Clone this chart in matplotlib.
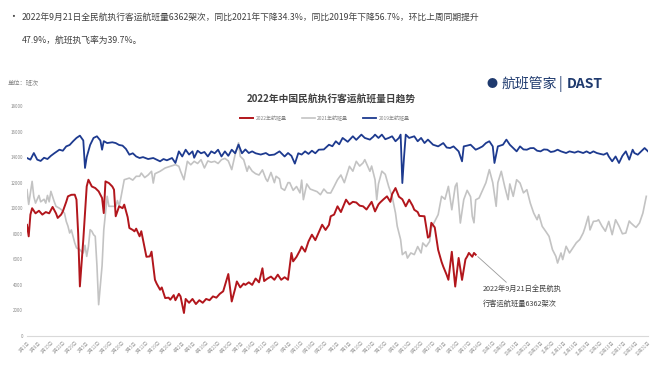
import matplotlib
matplotlib.use("Agg")
import matplotlib.pyplot as plt
import numpy as np
import datetime as dt

plt.rcParams['font.family'] = ['Noto Sans CJK SC', 'DejaVu Sans']

# 2019 daily flights (day of year, value)
days_2019 = [0, 2, 4, 6, 8, 10, 12, 14, 16, 19, 21, 23, 25, 27, 29, 31, 33, 34, 35, 37, 39, 41, 43, 44,
             45, 47, 50, 52, 54, 56, 58, 60, 62, 64, 66, 68, 71, 74, 76, 78, 80, 82, 85, 87, 89, 91,
             93, 95, 97, 98, 100, 102, 104, 106, 108, 110, 112, 114, 116, 118, 120, 122, 124, 126,
             128, 130, 132, 134, 137, 140, 142, 145, 148, 151, 153, 155, 157, 159, 161, 163, 165,
             167, 169, 171, 174, 177, 179, 181, 183, 185, 188, 191, 193, 196, 198, 201, 203, 204,
             206, 208, 210, 212, 214, 216, 218, 219, 220, 221, 222, 224, 227, 229, 231, 233, 235,
             238, 241, 244, 246, 248, 250, 253, 255, 256, 258, 260, 263, 265, 267, 269, 271, 273,
             274, 276, 279, 281, 283, 285, 287, 289, 291, 293, 295, 297, 299, 301, 303, 305, 307,
             309, 311, 313, 316, 318, 321, 323, 326, 328, 330, 332, 334, 336, 338, 340, 341, 343,
             345, 347, 349, 351, 353, 355, 356, 358, 360, 362, 364]
vals_2019 = [13930, 13800, 14320, 13800, 13700, 13950, 13850, 14100, 14300, 14580, 14500, 14840,
             14950, 15240, 15500, 15680, 15300, 13150, 14000, 14950, 15500, 15630, 15300, 14580,
             15250, 15100, 15160, 15100, 14950, 14900, 14640, 14190, 14300, 14050, 13930, 14000,
             13850, 13930, 13800, 13670, 13850, 13750, 13930, 13540, 14450, 14050, 14580, 14200,
             14450, 13950, 14500, 14300, 14400, 14050, 14450, 14300, 14580, 14050, 14450, 14100,
             14580, 14300, 14980, 14300, 14600, 14320, 14450, 14300, 14200, 14320, 14150, 14200,
             14450, 14050, 14320, 14100, 13490, 14300, 14200, 14450, 14250, 14500, 14300, 14580,
             14600, 14970, 14850, 15240, 15000, 15500, 15200, 15630, 15350, 15760, 15500, 15370,
             15600, 15760, 15500, 15760, 15400, 15500, 15630, 15240, 15500, 15760, 11970, 14000,
             15760, 15500, 15630, 15240, 15500, 15100, 15370, 14970, 14840, 15100, 14750, 14710,
             14840, 14450, 13670, 14840, 14900, 14970, 14580, 14700, 14840, 15100, 15240, 14840,
             13540, 14840, 14970, 15370, 14970, 14710, 14450, 14840, 14600, 14580, 14700, 14710,
             14500, 14450, 14600, 14580, 14400, 14450, 14580, 14450, 14320, 14450, 14350, 14450,
             14320, 14450, 14300, 14450, 14320, 14250, 14190, 14320, 14050, 13670, 14050, 13540,
             14100, 14450, 13800, 14580, 14320, 14190, 14450, 14710, 14450]

# 2021 daily flights
days_2021 = [0, 1, 3, 4, 5, 7, 8, 10, 11, 12, 13, 14, 16, 17, 19, 20, 22, 23, 24, 25, 26, 28, 29,
             31, 32, 33, 34, 35, 36, 37, 38, 39, 40, 41, 42, 44, 45, 47, 48, 50, 52, 53, 54, 55, 57,
             60, 62, 64, 66, 67, 69, 71, 73, 74, 75, 78, 81, 84, 87, 89, 90, 92, 94, 96, 98, 100,
             102, 104, 106, 108, 110, 112, 114, 116, 118, 120, 122, 124, 125, 127, 129, 130, 132,
             134, 136, 138, 140, 141, 143, 145, 146, 148, 149, 151, 153, 154, 156, 158, 160, 161,
             162, 164, 166, 168, 170, 172, 174, 176, 178, 180, 182, 184, 186, 189, 191, 193, 195,
             197, 198, 201, 202, 204, 205, 206, 208, 210, 212, 214, 216, 217, 219, 220, 222, 223,
             225, 227, 229, 231, 232, 234, 236, 237, 239, 241, 243, 245, 247, 249, 251, 252, 254,
             256, 258, 260, 261, 262, 263, 265, 267, 269, 271, 273, 275, 276, 278, 280, 282, 283,
             285, 287, 289, 291, 293, 295, 297, 299, 300, 302, 304, 306, 308, 310, 311, 313, 314,
             316, 318, 320, 322, 324, 326, 327, 329, 330, 332, 334, 335, 337, 339, 341, 343, 345,
             347, 349, 351, 353, 354, 356, 357, 359, 361, 363]
vals_2021 = [11450, 10300, 12100, 10900, 10400, 11000, 10500, 10700, 10400, 11000, 10500, 11320,
             10500, 10150, 10000, 9900, 9600, 8970, 8600, 8060, 8300, 7280, 6900, 6760, 6600, 6500,
             7100, 6230, 7000, 8320, 8200, 7930, 7800, 5500, 2450, 5500, 8300, 10930, 10150, 10150,
             10150, 10600, 10150, 10800, 12230, 12360, 12200, 12500, 12500, 12750, 12400, 12600,
             12890, 11970, 12700, 12890, 13150, 13280, 13410, 13280, 12900, 12230, 13670, 13400,
             13670, 13500, 13800, 13150, 13700, 13600, 13670, 13500, 13800, 13900, 13700, 13020,
             14200, 15120, 14060, 13800, 12890, 13300, 12900, 12700, 12600, 13000, 12300, 12100,
             12800, 12000, 12500, 12300, 11580, 11400, 12000, 12000, 11400, 11700, 11200, 12200,
             10670, 11900, 11500, 11400, 11300, 11060, 11500, 11200, 11190, 11700, 12230, 12600,
             12000, 13280, 12900, 13670, 13300, 13550, 13800, 12890, 13300, 12230, 10670, 11900,
             12900, 12650, 11700, 10930, 9620, 8600, 7540, 6370, 6600, 6100, 6500, 6370, 7000, 6500,
             7280, 7000, 7400, 8450, 8970, 9500, 10930, 10700, 11710, 9880, 11710, 11970, 8840,
             10670, 11400, 10900, 9370, 8860, 10660, 10800, 11400, 12000, 13020, 12000, 10150,
             12000, 12890, 11700, 10670, 11900, 10930, 12230, 11970, 11200, 11450, 10400, 9620,
             9100, 9500, 8580, 8200, 7800, 6760, 6230, 5710, 6500, 5980, 7020, 6500, 6900, 7300,
             7550, 8060, 8450, 9370, 8300, 8970, 9000, 9100, 8600, 8200, 8970, 7930, 9100, 8600,
             8000, 8060, 9000, 8840, 8600, 8500, 8840, 9620, 10930]

# 2022 daily flights (to 9月21日)
days_2022 = [0, 1, 2, 3, 5, 7, 9, 11, 13, 15, 17, 18, 20, 21, 23, 24, 26, 28, 29, 30, 31, 33, 35,
             36, 38, 40, 42, 44, 45, 46, 48, 50, 51, 52, 54, 56, 57, 59, 60, 62, 63, 64, 66, 67, 69,
             70, 72, 73, 75, 76, 78, 79, 81, 83, 84, 86, 87, 89, 90, 92, 93, 95, 97, 99, 101, 103,
             105, 107, 109, 111, 113, 115, 117, 118, 119, 120, 122, 123, 125, 127, 128, 130, 132,
             134, 136, 138, 139, 141, 143, 145, 147, 149, 151, 153, 155, 156, 158, 160, 161, 163,
             165, 167, 169, 171, 173, 175, 177, 178, 180, 182, 184, 187, 189, 191, 193, 195, 197,
             199, 202, 204, 206, 207, 209, 211, 213, 214, 216, 218, 220, 222, 224, 226, 227, 229,
             230, 233, 235, 236, 237, 239, 241, 243, 244, 246, 247, 248, 249, 251, 253, 255, 257,
             258, 259, 261, 262, 263]
vals_2022 = [8700, 7800, 9500, 10000, 9600, 9800, 9500, 9700, 9600, 10100, 9600, 9240, 9500, 9750,
             10500, 10930, 11050, 11060, 10670, 8000, 3880, 7540, 11710, 12230, 11700, 11580,
             11320, 10800, 9620, 12100, 11970, 11700, 11450, 9370, 10150, 10000, 10280, 9300, 8450,
             8300, 8190, 8400, 7800, 8200, 6890, 6200, 6230, 6600, 4400, 4100, 3620, 3800, 2970,
             3000, 2840, 3200, 2800, 3300, 3100, 1800, 2900, 2600, 2900, 2500, 2800, 2600, 2900,
             2800, 3100, 3000, 3300, 3500, 4400, 4850, 3800, 2700, 3700, 4270, 3800, 4100, 4000,
             4200, 4000, 4500, 4200, 5300, 4300, 4500, 4650, 4400, 4800, 4400, 4600, 4400, 6500,
             5840, 6200, 6700, 7000, 6600, 7400, 7930, 7500, 8100, 8710, 8300, 8700, 9370, 9500,
             10150, 9700, 10670, 10300, 10500, 10450, 10200, 10150, 9900, 10500, 9750, 10300,
             10450, 10700, 10930, 10500, 11100, 11580, 10900, 10700, 10150, 10670, 10200, 9880,
             9700, 9400, 9370, 7700, 7800, 8860, 8500, 6740, 5800, 5430, 4780, 4400, 5500, 6590,
             3870, 6110, 4390, 6000, 6220, 6500, 6200, 6500, 6362]

y_ticks = list(range(0, 18001, 2000))
start = dt.date(2022, 1, 1)
tick_days = list(range(0, 365, 7))
tick_labels = [f"{(start + dt.timedelta(d)).month}月{(start + dt.timedelta(d)).day}日" for d in tick_days]

RED = "#b2161c"
GREY = "#c3c3c3"
BLUE = "#1d3a8f"

fig = plt.figure(figsize=(6.5, 3.65), dpi=100)
ax = fig.add_axes([27 / 650, 29 / 365, 621 / 650, 230 / 365])

ax.plot(days_2021, vals_2021, color=GREY, lw=1.2, label="2021年航班量", zorder=2)
ax.plot(days_2019, vals_2019, color=BLUE, lw=1.3, label="2019年航班量", zorder=3)
ax.plot(days_2022, vals_2022, color=RED, lw=1.4, label="2022年航班量", zorder=4)

ax.set_xlim(0, 364)
ax.set_ylim(0, 18000)
ax.set_yticks(y_ticks)
ax.set_yticklabels([str(v) for v in y_ticks], fontsize=3.2, color="#888888")
ax.set_xticks(tick_days)
ax.set_xticklabels(tick_labels, fontsize=3.2, color="#999999", rotation=45, ha="right",
                   rotation_mode="anchor")
ax.tick_params(axis="both", length=0, pad=3)
for s in ["top", "right", "left"]:
    ax.spines[s].set_visible(False)
ax.spines["bottom"].set_color("#d9d9d9")
ax.spines["bottom"].set_linewidth(0.8)

# legend row
h = {l.get_label(): l for l in ax.get_lines()}
leg = fig.legend([h["2022年航班量"], h["2021年航班量"], h["2019年航班量"]],
                 ["2022年航班量", "2021年航班量", "2019年航班量"],
                 loc="center", bbox_to_anchor=(325 / 650, 1 - 118 / 365), ncol=3, frameon=False,
                 fontsize=3.6, handlelength=2.6, columnspacing=3.0, handletextpad=0.5)
for t in leg.get_texts():
    t.set_color("#888888")

# annotation for latest value
ax.annotate("2022年9月21日全民航执\n行客运航班量6362架次", xy=(263, 6362), xytext=(267, 3100),
            fontsize=5.2, color="#404040", linespacing=2.1, ha="left", va="center",
            arrowprops=dict(arrowstyle="-", color="#999999", lw=0.6, shrinkA=0, shrinkB=2))

# header text
fig.text(8 / 650, 1 - 17 / 365, "•", fontsize=7, color="#404040", va="center")
fig.text(22 / 650, 1 - 17 / 365,
         "2022年9月21日全民航执行客运航班量6362架次，同比2021年下降34.3%，同比2019年下降56.7%，环比上周同期提升",
         fontsize=6.3, color="#404040", va="center")
fig.text(22 / 650, 1 - 40 / 365, "47.9%，航班执飞率为39.7%。", fontsize=6.3, color="#404040",
         va="center")
fig.text(8 / 650, 1 - 83 / 365, "单位：班次", fontsize=4.5, color="#808080", va="center")
fig.text(331 / 650, 1 - 99 / 365, "2022年中国民航执行客运航班量日趋势", fontsize=7,
         fontweight="bold", color="#404040", ha="center", va="center")

# brand mark
fig.text(492 / 650, 1 - 84 / 365, "●", fontsize=8, color="#1f3a6e", ha="center", va="center")
fig.text(502 / 650, 1 - 84 / 365, "航班管家", fontsize=10, color="#1f3a6e", va="center")
fig.text(559 / 650, 1 - 84 / 365, "|", fontsize=10, color="#1f3a6e", va="center")
fig.text(567 / 650, 1 - 84 / 365, "DAST", fontsize=10, fontweight="bold", color="#1f3a6e",
         va="center")

fig.savefig("out.png", dpi=100)
